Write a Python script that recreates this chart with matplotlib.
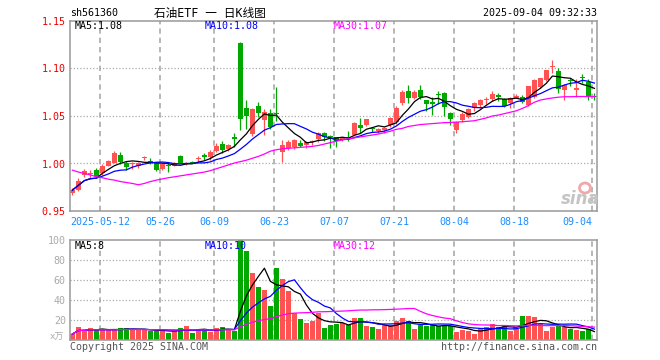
import matplotlib
matplotlib.use("Agg")
import matplotlib.pyplot as plt
import matplotlib.patches as mpatches
import matplotlib.transforms as mtransforms
import numpy as np
import pandas as pd

plt.rcParams['font.family'] = ['DejaVu Sans Mono', 'Noto Sans CJK SC']

# daily candles, 2025-04-30 .. 2025-09-04
opens = [0.969, 0.972, 0.988, 0.989, 0.993, 0.990, 0.9975, 1.001, 1.009, 1.0008,
         0.999, 0.997, 1.006, 1.0025, 1.001, 0.9938, 0.9975, 0.9975, 1.0079, 0.9995,
         1.0012, 1.005, 1.009, 1.0072, 1.0135, 1.0205, 1.015, 1.0282, 1.127, 1.0587,
         1.031, 1.0605, 1.046, 1.0535, 1.0535, 1.0124, 1.016, 1.0177, 1.0213, 1.0195,
         1.0225, 1.0255, 1.0318, 1.0285, 1.0276, 1.0245, 1.027, 1.030, 1.0405, 1.0405,
         1.037, 1.034, 1.0355, 1.0405, 1.044, 1.0634, 1.0767, 1.0686, 1.077, 1.0668,
         1.0645, 1.073, 1.074, 1.0535, 1.035, 1.0458, 1.0493, 1.058, 1.0615, 1.0665,
         1.0675, 1.0715, 1.0675, 1.0634, 1.069, 1.0703, 1.0616, 1.0703, 1.0802, 1.0879,
         1.102, 1.0977, 1.0777, 1.088, 1.077, 1.0905, 1.0862, 1.0705]
highs = [0.974, 0.9845, 0.994, 0.993, 0.995, 0.999, 1.004, 1.013, 1.0125, 1.003,
         1.002, 1.002, 1.008, 1.0055, 1.002, 1.000, 1.0005, 1.002, 1.0085, 1.002,
         1.003, 1.0075, 1.011, 1.014, 1.0215, 1.0235, 1.021, 1.032, 1.128, 1.067,
         1.058, 1.065, 1.057, 1.057, 1.081, 1.0247, 1.0245, 1.026, 1.0245, 1.0235,
         1.0245, 1.0335, 1.0335, 1.030, 1.028, 1.028, 1.0345, 1.044, 1.0475, 1.047,
         1.0385, 1.037, 1.0385, 1.0485, 1.060, 1.077, 1.0826, 1.077, 1.0826, 1.067,
         1.070, 1.0765, 1.075, 1.054, 1.045, 1.054, 1.0585, 1.065, 1.068, 1.0705,
         1.0765, 1.0745, 1.0685, 1.0705, 1.0735, 1.072, 1.082, 1.0885, 1.090, 1.0985,
         1.109, 1.1005, 1.0835, 1.0905, 1.0889, 1.094, 1.0885, 1.074]
lows = [0.967, 0.971, 0.986, 0.985, 0.986, 0.988, 0.997, 1.000, 0.999, 0.9935,
        0.994, 0.9955, 1.004, 0.999, 0.992, 0.993, 0.9915, 0.997, 1.000, 0.9985,
        1.000, 1.002, 1.004, 1.004, 1.012, 1.011, 1.0135, 1.0175, 1.035, 1.036,
        1.029, 1.049, 1.030, 1.036, 1.045, 1.002, 1.0145, 1.0155, 1.017, 1.016,
        1.0195, 1.0225, 1.024, 1.016, 1.0175, 1.0235, 1.0235, 1.029, 1.032, 1.039,
        1.033, 1.0325, 1.032, 1.038, 1.0415, 1.0615, 1.0634, 1.0675, 1.068, 1.055,
        1.051, 1.063, 1.050, 1.0405, 1.0325, 1.044, 1.0475, 1.0555, 1.058, 1.063,
        1.066, 1.0655, 1.0595, 1.058, 1.0685, 1.064, 1.060, 1.069, 1.079, 1.087,
        1.0956, 1.0737, 1.0668, 1.0815, 1.070, 1.0845, 1.0668, 1.0668]
closes = [0.972, 0.982, 0.992, 0.990, 0.987, 0.997, 1.003, 1.0115, 1.002, 0.9966,
          1.0005, 1.0002, 1.0068, 1.002, 0.9935, 0.9995, 0.997, 1.0005, 1.0002, 1.0005,
          1.0005, 1.0058, 1.0072, 1.0124, 1.0185, 1.0142, 1.0195, 1.0255, 1.047, 1.050,
          1.057, 1.053, 1.054, 1.0387, 1.052, 1.0195, 1.023, 1.0247, 1.0188, 1.023,
          1.0232, 1.0318, 1.0276, 1.0275, 1.024, 1.0275, 1.0265, 1.043, 1.037, 1.0465,
          1.036, 1.036, 1.037, 1.0475, 1.058, 1.0756, 1.0686, 1.0756, 1.0697, 1.0626,
          1.063, 1.072, 1.0597, 1.0465, 1.044, 1.052, 1.057, 1.0634, 1.0668, 1.0675,
          1.073, 1.0705, 1.0605, 1.0685, 1.0715, 1.065, 1.0816, 1.0879, 1.0897, 1.0984,
          1.1026, 1.0781, 1.0826, 1.087, 1.079, 1.0895, 1.0703, 1.0695]
# volume in 万
volumes = [6, 13, 10, 12, 10, 10, 10, 10.5, 12, 12,
           10, 10, 10, 9.3, 9, 10, 7, 9, 12, 14,
           7, 10, 11, 8, 12, 13, 10, 9, 100, 89,
           66.7, 53.3, 50, 34, 72, 61, 49, 26.7, 21, 17.3,
           19.3, 26.7, 12.3, 15, 16, 16.7, 15, 22, 22, 14,
           13.3, 11.3, 15, 15, 19.3, 22, 19.3, 11.3, 15, 14.3,
           15, 14, 14, 14, 8.3, 10, 9.3, 6, 11, 13,
           16, 13, 14.3, 9.3, 11.3, 24, 24, 22.7, 16, 9.3,
           13.3, 15, 13, 11, 10.3, 9, 10.7, 1]
# 30-day price average as drawn (includes days before the window)
ma30_price = [0.993, 0.991, 0.9895, 0.988, 0.986, 0.985, 0.9835, 0.9825, 0.981, 0.980,
              0.979, 0.9776, 0.979, 0.981, 0.9825, 0.9838, 0.985, 0.986, 0.987, 0.988,
              0.989, 0.990, 0.991, 0.9925, 0.9945, 0.9965, 0.9985, 1.0005, 1.002, 1.0035,
              1.0055, 1.0075, 1.010, 1.013, 1.0145, 1.0155, 1.016, 1.0165, 1.017, 1.0175,
              1.018, 1.019, 1.0205, 1.022, 1.0235, 1.025, 1.026, 1.027, 1.028, 1.029,
              1.030, 1.031, 1.0325, 1.034, 1.036, 1.037, 1.039, 1.040, 1.041, 1.0415,
              1.042, 1.0425, 1.043, 1.0432, 1.0435, 1.044, 1.0445, 1.045, 1.0465, 1.048,
              1.050, 1.051, 1.0525, 1.054, 1.0555, 1.058, 1.061, 1.0645, 1.0668, 1.068,
              1.069, 1.0698, 1.0703, 1.0703, 1.0705, 1.0705, 1.0705, 1.0705]

date_labels = ['2025-05-12', '05-26', '06-09', '06-23', '07-07', '07-21', '08-04', '08-18', '09-04']
date_index = [5, 15, 24, 34, 44, 54, 64, 74, 87]
price_ticks = [0.95, 1.00, 1.05, 1.10, 1.15]
vol_ticks = [20, 40, 60, 80, 100]
price_ma_text = ['MA5:1.08', 'MA10:1.08', 'MA30:1.07']
vol_ma_text = ['MA5:8', 'MA10:10', 'MA30:12']

RED = '#ff5252'
GREEN = '#00a800'
GRID = '#aaaaaa'
FS = 7.2

df = pd.DataFrame({'o': opens, 'h': highs, 'l': lows, 'c': closes, 'v': volumes})
x = np.arange(len(df))
colors = np.where(df.c >= df.o, RED, GREEN)
ma5 = df.c.rolling(5, min_periods=1).mean()
ma10 = df.c.rolling(10, min_periods=1).mean()
vma5 = df.v.rolling(5, min_periods=1).mean()
vma10 = df.v.rolling(10, min_periods=1).mean()
vma30 = df.v.rolling(30, min_periods=1).mean()

W, H = 660, 360
fig = plt.figure(figsize=(6.6, 3.6), dpi=100)
ax = fig.add_axes([70/W, 1-211/H, 527/W, 190/H])
axv = fig.add_axes([70/W, 1-340/H, 527/W, 100/H])

xlim = (-0.4, 87.43)
grid_x = [i - 0.4 for i in date_index]

# price panel
for p in price_ticks[1:-1]:
    ax.axhline(p, color=GRID, lw=0.9, ls=(0, (1, 1.6)), zorder=0)
for g in grid_x:
    ax.axvline(g, color=GRID, lw=1.2, ls=(0, (3.2, 2.4)), zorder=0)
ax.vlines(x, df.l, df.h, colors=colors, lw=0.9, zorder=2)
body_lo = np.minimum(df.o, df.c)
body_h = np.maximum((df.c - df.o).abs(), 0.0011)
ax.bar(x, body_h, 0.83, bottom=body_lo, color=colors, lw=0, zorder=2)
ax.plot(x, ma5, color='black', lw=0.9, zorder=3)
ax.plot(x, ma10, color='#0000ff', lw=0.9, zorder=3)
ax.plot(x, ma30_price, color='#ff00ff', lw=0.9, zorder=3)
ax.set_xlim(*xlim)
ax.set_ylim(0.95, 1.15)
ax.set_yticks(price_ticks)
ax.set_yticklabels(['%.2f' % p for p in price_ticks], color='#ee0000', fontsize=FS)
ax.set_xticks([])
ax.tick_params(axis='y', length=0, pad=3)

trans = mtransforms.blended_transform_factory(ax.transData, ax.transAxes)
for g, lab in zip(grid_x, date_labels):
    ha = 'right' if lab == date_labels[-1] else 'center'
    ax.text(g, -0.058, lab, transform=trans, ha=ha, va='center',
            color='#1a8cff', fontsize=FS)

# volume panel
for v in vol_ticks[:-1]:
    axv.axhline(v, color=GRID, lw=0.9, ls=(0, (1, 1.6)), zorder=0)
for g in grid_x:
    axv.axvline(g, color=GRID, lw=1.2, ls=(0, (3.2, 2.4)), zorder=0)
axv.bar(x, df.v, 0.83, color=colors, lw=0, zorder=2)
axv.plot(x, vma5, color='black', lw=0.9, zorder=3)
axv.plot(x, vma10, color='#0000ff', lw=0.9, zorder=3)
axv.plot(x, vma30, color='#ff00ff', lw=0.9, zorder=3)
axv.set_xlim(*xlim)
axv.set_ylim(0, 100)
axv.set_yticks(vol_ticks)
axv.set_yticklabels([str(v) for v in vol_ticks], color='#aaaaaa', fontsize=FS)
axv.set_xticks([])
axv.tick_params(axis='y', length=0, pad=3)

for a in (ax, axv):
    for s in a.spines.values():
        s.set_color('#999999')
        s.set_linewidth(1.1)

# texts
def ftext(px, py, s, **kw):
    kw.setdefault('fontsize', FS)
    kw.setdefault('va', 'center')
    fig.text(px / W, 1 - py / H, s, **kw)

ftext(70, 13, 'sh561360', ha='left')
ftext(210, 13, '石油ETF 一 日K线图', ha='center', fontsize=8.4)
ftext(597, 13, '2025-09-04 09:32:33', ha='right')
for px, s, c in zip([75, 205, 334], price_ma_text, ['black', '#0000ff', '#ff00ff']):
    ftext(px, 26, s, ha='left', color=c)
for px, s, c in zip([75, 205, 334], vol_ma_text, ['black', '#0000ff', '#ff00ff']):
    ftext(px, 246, s, ha='left', color=c)
ftext(64, 337, 'x万', ha='right', color='#aaaaaa', fontsize=6.5)
ftext(70, 347, 'Copyright 2025 SINA.COM', ha='left', color='#555555')
ftext(597, 347, 'http://finance.sina.com.cn', ha='right', color='#555555')

# sina watermark
ftext(580, 199, 'sina', ha='center', color='#c4c4c4', fontsize=12,
      style='italic', weight='bold', family='DejaVu Sans')
fig.patches.append(mpatches.Ellipse((585/W, 1-188/H), 11/W, 10/H, transform=fig.transFigure,
                                    fill=False, ec='#f0a8a8', lw=2.0))

fig.savefig('out.png', dpi=100)
